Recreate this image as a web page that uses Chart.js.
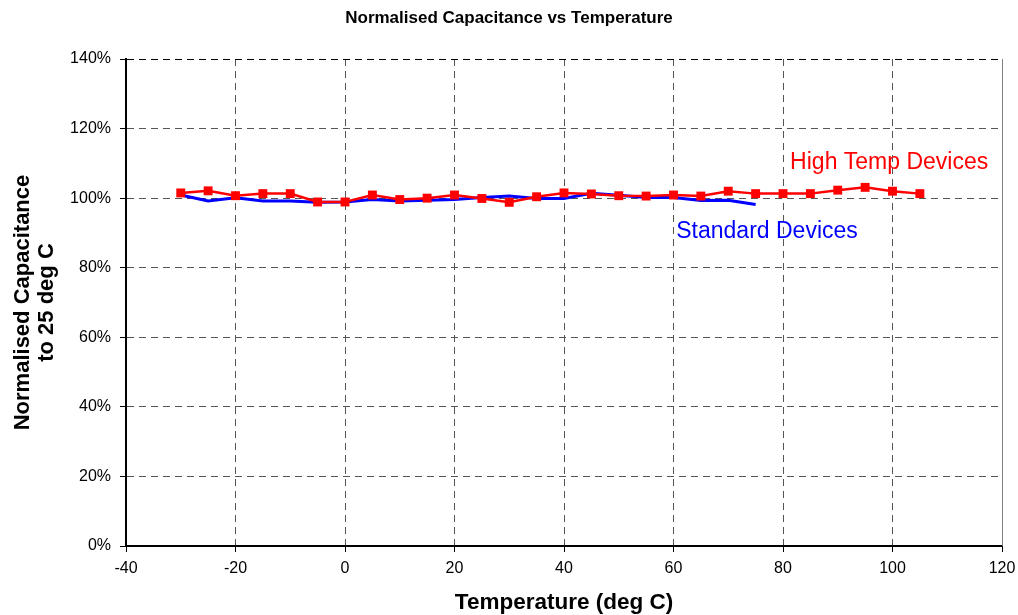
<!DOCTYPE html>
<html>
<head>
<meta charset="utf-8">
<script src="https://cdn.jsdelivr.net/npm/chart.js@4"></script>
<style>
  html, body { margin: 0; padding: 0; background: #fff; }
  #wrap { width: 1018px; height: 615px; position: relative; }
</style>
</head>
<body>
<div id="wrap"><canvas id="chart"></canvas></div>
<script>
const temps = [-30, -25, -20, -15, -10, -5, 0, 5, 10, 15, 20, 25, 30, 35, 40, 45, 50, 55, 60, 65, 70, 75, 80, 85, 90, 95, 100, 105];
const highTemp = [101.5, 102.1, 100.7, 101.3, 101.3, 98.9, 98.9, 100.9, 99.6, 100.0, 100.9, 99.9, 98.8, 100.4, 101.5, 101.2, 100.7, 100.6, 100.9, 100.6, 102.0, 101.3, 101.3, 101.3, 102.3, 103.1, 102.0, 101.3];
const stdTemps = [-30, -25, -20, -15, -10, -5, 0, 5, 10, 15, 20, 25, 30, 35, 40, 45, 50, 55, 60, 65, 70, 75];
const standard = [100.9, 99.2, 100.1, 99.2, 99.2, 98.8, 98.9, 99.6, 99.2, 99.4, 99.6, 100.2, 100.6, 99.9, 99.9, 101.4, 100.8, 100.2, 100.2, 99.3, 99.4, 98.2];
const yTicks = [0, 20, 40, 60, 80, 100, 120, 140];
const xTicks = [-40, -20, 0, 20, 40, 60, 80, 100, 120];
const labels = [
  { text: "High Temp Devices", x: 81.3, y: 110.3, color: "#ff0000" },
  { text: "Standard Devices", x: 60.5, y: 90.4, color: "#0000ff" },
];

const FONT = "'Liberation Sans', Arial, sans-serif";

const textPlugin = {
  id: "seriesText",
  afterDatasetsDraw(chart) {
    const { ctx, scales, chartArea } = chart;
    ctx.save();
    // plot area right edge
    ctx.strokeStyle = "#808080";
    ctx.lineWidth = 1;
    ctx.beginPath();
    ctx.moveTo(chartArea.right + 0.5, chartArea.top);
    ctx.lineTo(chartArea.right + 0.5, chartArea.bottom);
    ctx.stroke();
    ctx.font = "23px " + FONT;
    ctx.textBaseline = "middle";
    ctx.textAlign = "left";
    labels.forEach((l) => {
      ctx.fillStyle = l.color;
      ctx.fillText(l.text, scales.x.getPixelForValue(l.x), scales.y.getPixelForValue(l.y));
    });
    ctx.restore();
  },
};

new Chart(document.getElementById("chart"), {
  type: "line",
  data: {
    datasets: [
      {
        label: "High Temp Devices",
        data: temps.map((t, i) => ({ x: t, y: highTemp[i] })),
        borderColor: "#ff0000",
        backgroundColor: "#ff0000",
        borderWidth: 2.5,
        pointStyle: "rect",
        pointRadius: 6.3,
        pointBorderWidth: 0,
        tension: 0,
        order: 0,
      },
      {
        label: "Standard Devices",
        data: stdTemps.map((t, i) => ({ x: t, y: standard[i] })),
        borderColor: "#0000ff",
        backgroundColor: "#0000ff",
        borderWidth: 3,
        pointRadius: 0,
        tension: 0,
        order: 1,
      },
    ],
  },
  options: {
    responsive: true,
    maintainAspectRatio: false,
    animation: false,
    layout: { padding: 0 },
    plugins: {
      legend: { display: false },
      tooltip: { enabled: false },
      title: {
        display: true,
        text: "Normalised Capacitance vs Temperature",
        color: "#000",
        font: { family: FONT, size: 17, weight: "bold", lineHeight: 1.2 },
        padding: { top: 8, bottom: 30.6 },
      },
    },
    scales: {
      x: {
        type: "linear",
        min: -40,
        max: 120,
        afterBuildTicks: (s) => { s.ticks = xTicks.map((v) => ({ value: v })); },
        afterFit: (s) => { s.height = 69; s.paddingRight = 16; },
        ticks: { color: "#000", font: { family: FONT, size: 16 }, padding: 7 },
        grid: {
          color: "#555",
          tickColor: "#000",
          tickLength: 6,
          tickBorderDash: [],
        },
        border: { display: true, color: "#000", width: 2, dash: [7, 5] },
        title: {
          display: true,
          text: "Temperature (deg C)",
          color: "#000",
          font: { family: FONT, size: 22.5, weight: "bold", lineHeight: 1.1 },
          padding: { top: 0, bottom: 0 },
        },
      },
      y: {
        type: "linear",
        min: 0,
        max: 140,
        afterBuildTicks: (s) => { s.ticks = yTicks.map((v) => ({ value: v })); },
        afterFit: (s) => { s.width = 126; },
        ticks: {
          color: "#000",
          font: { family: FONT, size: 16 },
          padding: 9,
          callback: (v) => v + "%",
        },
        grid: {
          color: (c) => (c.tick && c.tick.value === 140 ? "#000" : "#555"),
          tickColor: "#000",
          tickLength: 6,
          tickBorderDash: [],
        },
        border: { display: true, color: "#000", width: 2, dash: [7, 5] },
        title: {
          display: true,
          text: ["Normalised Capacitance", "to 25 deg C"],
          color: "#000",
          font: { family: FONT, size: 22, weight: "bold", lineHeight: 1.1 },
          padding: { top: 11, bottom: 0 },
        },
      },
    },
  },
  plugins: [textPlugin],
});
</script>
</body>
</html>
